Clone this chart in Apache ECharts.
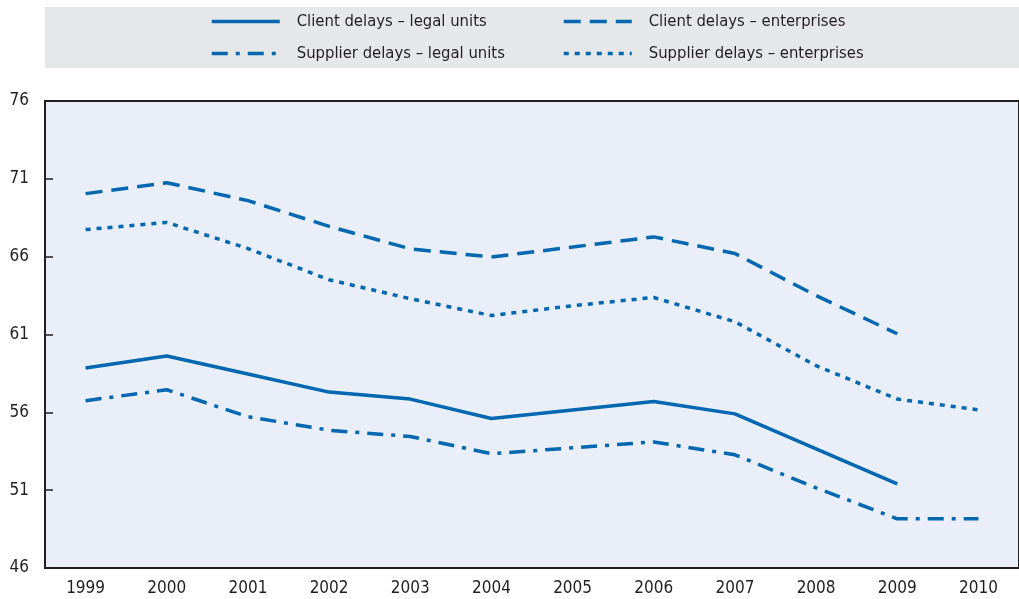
<!DOCTYPE html>
<html>
<head>
<meta charset="utf-8">
<title>Client and supplier delays</title>
<script src="https://cdn.jsdelivr.net/npm/echarts@6/dist/echarts.min.js"></script>
<style>
  html, body { margin: 0; padding: 0; background: #fff; }
  #chart { width: 1019px; height: 599px; }
</style>
</head>
<body>
<div id="chart"></div>
<script>
// 年份（类目轴）
const years = ['1999', '2000', '2001', '2002', '2003', '2004', '2005', '2006', '2007', '2008', '2009', '2010']

// 各系列数值（天数）
const clientLegal = [58.85, 59.62, 58.46, 57.3, 56.85, 55.6, 56.15, 56.7, 55.9, 53.65, 51.4, null]
const clientEnterprises = [70.05, 70.75, 69.6, 67.95, 66.5, 65.98, 66.62, 67.27, 66.2, 63.5, 61.05, null]
const supplierLegal = [56.75, 57.45, 55.72, 54.85, 54.45, 53.34, 53.72, 54.1, 53.27, 51.15, 49.16, 49.16]
const supplierEnterprises = [67.74, 68.2, 66.52, 64.52, 63.3, 62.22, 62.85, 63.38, 61.82, 59.0, 56.85, 56.16]

// 纵轴刻度
const yMin = 46
const yMax = 76
const yStep = 5

const BLUE = '#0067b1'
const INK = '#231f20'
const FONT = "'DejaVu Sans Condensed', 'Liberation Sans Narrow', sans-serif"

const chart = echarts.init(document.getElementById('chart'))

// 统一的折线系列配置
function lineSeries(name, data, dash) {
  return {
    name: name,
    type: 'line',
    data: data,
    symbol: 'none',
    smooth: false,
    connectNulls: false,
    lineStyle: { color: BLUE, width: 3.5, type: dash, cap: 'butt' },
    itemStyle: { color: BLUE },
    emphasis: { disabled: true }
  }
}

const legendText = { color: INK, fontSize: 16.5, fontFamily: FONT, padding: [0, 0, 0, 12] }

// 图例公共配置（只画线，不画圆点）
function legendColumn(left, names) {
  return {
    orient: 'vertical',
    left: left,
    top: 8,
    itemWidth: 68,
    itemHeight: 14,
    itemGap: 15,
    itemStyle: { opacity: 0 },
    lineStyle: { width: 3.5 },
    textStyle: legendText,
    data: names,
    selectedMode: false
  }
}

chart.setOption({
  animation: false,
  textStyle: { fontFamily: FONT },
  /* 图例底色条 */
  graphic: [
    {
      type: 'rect',
      z: -1,
      shape: { x: 45, y: 7, width: 974, height: 61 },
      style: { fill: '#e6e7e9' }
    }
  ],
  /* 图例：两列，每列两行 */
  legend: [
    legendColumn(205, ['Client delays – legal units', 'Supplier delays – legal units']),
    legendColumn(557, ['Client delays – enterprises', 'Supplier delays – enterprises'])
  ],
  grid: {
    left: 45,
    right: -12,
    top: 101,
    bottom: 31,
    show: true,
    backgroundColor: '#e9eef8',
    borderColor: INK,
    borderWidth: 2
  },
  xAxis: {
    type: 'category',
    data: years,
    boundaryGap: true,
    axisLine: { lineStyle: { color: INK, width: 2 } },
    axisTick: { inside: true, length: 8, lineStyle: { color: INK, width: 1.5 } },
    axisLabel: { color: INK, fontSize: 17, fontFamily: FONT, margin: 12 },
    splitLine: { show: false }
  },
  yAxis: {
    type: 'value',
    min: yMin,
    max: yMax,
    interval: yStep,
    axisLine: { show: true, lineStyle: { color: INK, width: 2 } },
    axisTick: { show: true, inside: true, length: 8, lineStyle: { color: INK, width: 1.5 } },
    axisLabel: { color: INK, fontSize: 17, fontFamily: FONT, margin: 16 },
    splitLine: { show: false }
  },
  series: [
    lineSeries('Client delays – legal units', clientLegal, 'solid'),
    lineSeries('Supplier delays – legal units', supplierLegal, [16, 8, 4, 8]),
    lineSeries('Client delays – enterprises', clientEnterprises, [17, 9]),
    lineSeries('Supplier delays – enterprises', supplierEnterprises, [5, 6])
  ]
})
</script>
</body>
</html>
